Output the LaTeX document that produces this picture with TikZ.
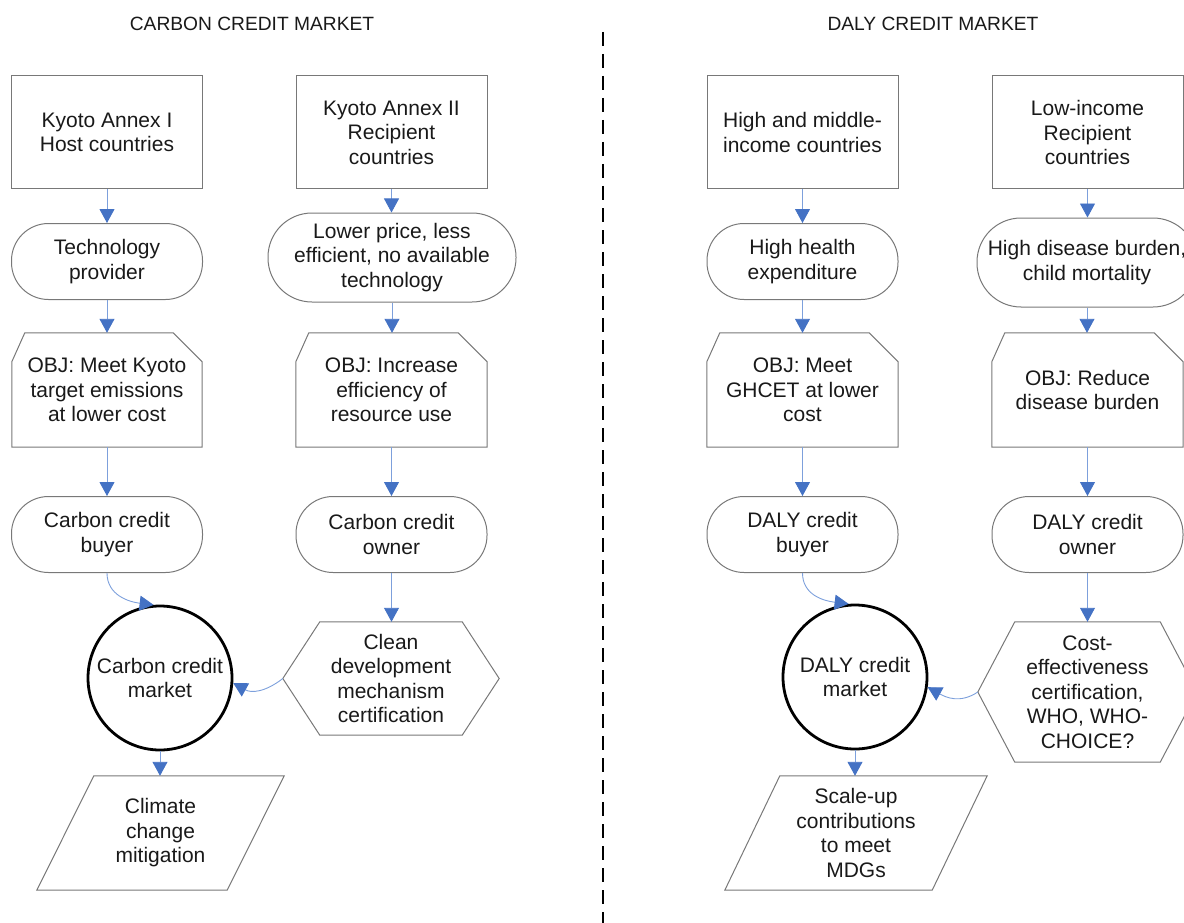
\documentclass[tikz,border=0pt]{standalone}
\usepackage{fontspec}
\setmainfont{Liberation Sans}
\usetikzlibrary{arrows.meta,calc}
\definecolor{lineblue}{RGB}{125,160,220}
\definecolor{tipblue}{RGB}{68,114,196}
\definecolor{edgegray}{RGB}{120,120,120}
\definecolor{txt}{RGB}{25,25,25}
\newcommand\objshape[1]{%
  \draw[shp] (#1.south west) -- ($(#1.north west)+(0,29)$) -- ($(#1.north west)+(13,0)$)
    -- ($(#1.north east)+(-29,0)$) -- ($(#1.north east)+(0,29)$) -- (#1.south east) -- cycle;}
\newcommand\hexshape[2]{%
  \draw[shp] (#1.west) -- ($(#1.north west)+(#2,0)$) -- ($(#1.north east)+(-#2,0)$) -- (#1.east)
    -- ($(#1.south east)+(-#2,0)$) -- ($(#1.south west)+(#2,0)$) -- cycle;}
\newcommand\parashape[2]{%
  \draw[shp] ($(#1.north west)+(#2,0)$) -- ($(#1.north east)+(#2,0)$)
    -- ($(#1.south east)+(-#2,0)$) -- ($(#1.south west)+(-#2,0)$) -- cycle;}
\begin{document}
\begin{tikzpicture}[x=1pt,y=-1pt,
  font=\fontsize{21}{24.5}\selectfont, text=txt,
  box/.style={draw=edgegray,line width=1pt,align=center,inner sep=0pt,minimum width=191pt,minimum height=113pt},
  term/.style={draw=edgegray,line width=1pt,align=center,inner sep=0pt,rounded corners=37pt,minimum width=191pt,minimum height=76pt},
  plainnode/.style={align=center,inner sep=0pt},
  mkt/.style={circle,draw=black,line width=2.8pt,minimum size=144pt,inner sep=0pt,align=center},
  shp/.style={draw=edgegray,line width=1pt},
  conn/.style={draw=lineblue,line width=0.9pt,-{Triangle[width=15pt,length=14pt,color=tipblue]}},
  title/.style={font=\fontsize{19.2}{22}\selectfont,inner sep=0pt}
]
\useasboundingbox (0,0) rectangle (1184,923);

% titles
\node[title] (t1) at (252,24) {CARBON CREDIT MARKET};
\node[title] (t2) at (933,24) {DALY CREDIT MARKET};

% divider
\coordinate (d1) at (603,32);
\coordinate (d2) at (603,923);
\draw[black,line width=1.5pt,dash pattern=on 14pt off 8pt] (d1) -- (d2);

% ---------- Carbon: column A ----------
\node[box] (A1) at (107,132.5) {Kyoto Annex I\\Host countries};
\node[term] (A2) at (107,261.5) {Technology\\provider};
\node[plainnode,minimum width=190pt,minimum height=114pt] (A3) at (107,390) {OBJ: Meet Kyoto\\target emissions\\at lower cost};
\objshape{A3}
\node[term] (A4) at (107,534.5) {Carbon credit\\buyer};
\node[mkt] (cmA) at (160,678) {Carbon credit\\market};
\node[plainnode,minimum width=190pt,minimum height=114pt] (pA) at (160.5,833) {Climate\\change\\mitigation};
\parashape{pA}{28.5}

% ---------- Carbon: column B ----------
\node[box] (B1) at (391.5,132.5) {Kyoto Annex II\\Recipient\\countries};
\node[term,minimum width=248pt,minimum height=89pt,rounded corners=44pt] (B2) at (392,257.5) {Lower price, less\\efficient, no available\\technology};
\node[plainnode,minimum width=191pt,minimum height=114pt] (B3) at (391.5,390) {OBJ: Increase\\efficiency of\\resource use};
\objshape{B3}
\node[term] (B4) at (391.5,534.5) {Carbon credit\\owner};
\node[plainnode,minimum width=216pt,minimum height=113pt] (B5) at (391,678.5) {Clean\\development\\mechanism\\certification};
\hexshape{B5}{37}

% ---------- DALY: column C ----------
\node[box] (C1) at (802.5,132.5) {High and middle-\\income countries};
\node[term] (C2) at (802.5,261.5) {High health\\expenditure};
\node[plainnode,minimum width=191pt,minimum height=114pt] (C3) at (802.5,390) {OBJ: Meet\\GHCET at lower\\cost};
\objshape{C3}
\node[term] (C4) at (802.5,534.5) {DALY credit\\buyer};
\node[mkt] (cmC) at (855,677) {DALY credit\\market};
\node[plainnode,minimum width=207pt,minimum height=114pt] (pC) at (856,833) {Scale-up\\contributions\\to meet\\MDGs};
\parashape{pC}{27.5}

% ---------- DALY: column D ----------
\node[box] (D1) at (1087.5,132.5) {Low-income\\Recipient\\countries};
\node[term,minimum width=220pt,minimum height=89pt,rounded corners=44pt] (D2) at (1087,262.5) {High disease burden,\\child mortality};
\node[plainnode,minimum width=191pt,minimum height=114pt] (D3) at (1087.5,390) {OBJ: Reduce\\disease burden};
\objshape{D3}
\node[term] (D4) at (1087.5,534.5) {DALY credit\\owner};
\node[plainnode,minimum width=219pt,minimum height=140pt] (D5) at (1087.5,692) {Cost-\\effectiveness\\certification,\\WHO, WHO-\\CHOICE?};
\hexshape{D5}{37}

% ---------- connectors ----------
\draw[conn] (A1.south) -- (A1.south |- A2.north);
\draw[conn] (A2.south) -- (A2.south |- A3.north);
\draw[conn] (A3.south) -- (A3.south |- A4.north);
\draw[conn] (A4.south) .. controls +(0,22) and +(-25,-3) .. (cmA.95);
\draw[conn] (cmA.south) -- (cmA.south |- pA.north);

\draw[conn] (B1.south) -- (B1.south |- B2.north);
\draw[conn] (B2.south) -- (B2.south |- B3.north);
\draw[conn] (B3.south) -- (B3.south |- B4.north);
\draw[conn] (B4.south) -- (B4.south |- B5.north);
\draw[conn] (B5.west) .. controls +(-18,14) and +(18,10) .. (cmA.-4);

\draw[conn] (C1.south) -- (C1.south |- C2.north);
\draw[conn] (C2.south) -- (C2.south |- C3.north);
\draw[conn] (C3.south) -- (C3.south |- C4.north);
\draw[conn] (C4.south) .. controls +(0,22) and +(-25,-3) .. (cmC.95);
\draw[conn] (cmC.south) -- (cmC.south |- pC.north);

\draw[conn] (D1.south) -- (D1.south |- D2.north);
\draw[conn] (D2.south) -- (D2.south |- D3.north);
\draw[conn] (D3.south) -- (D3.south |- D4.north);
\draw[conn] (D4.south) -- (D4.south |- D5.north);
\draw[conn] (D5.west) .. controls +(-18,12) and +(18,10) .. (cmC.-8);
\end{tikzpicture}
\end{document}
